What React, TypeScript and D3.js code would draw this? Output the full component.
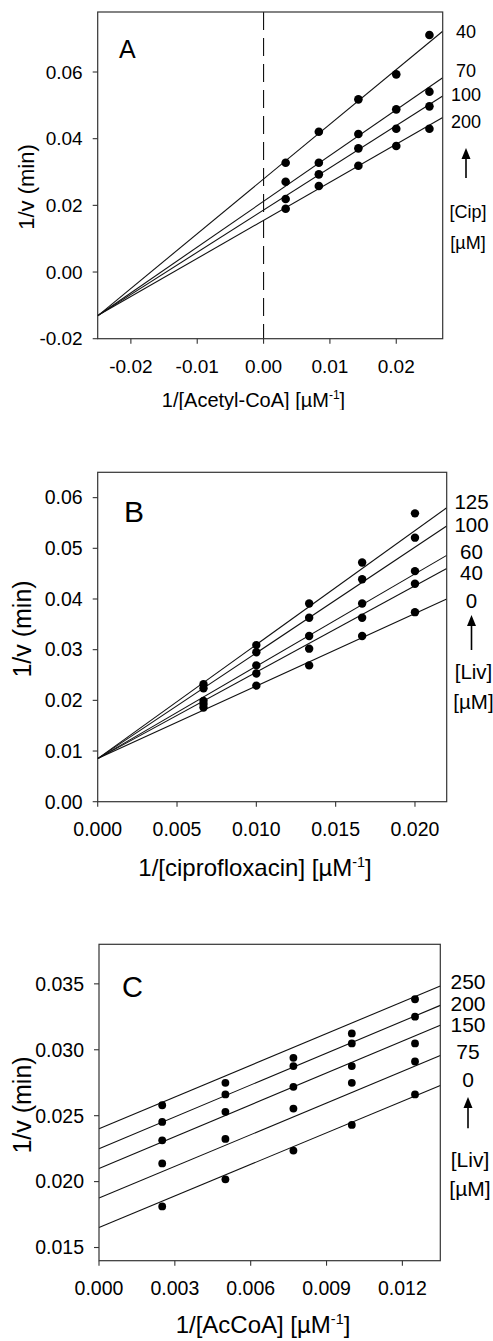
import React from "react";
import * as d3 from "d3";

// ---------- DATA ----------
// Panel A: 1/v vs 1/[Acetyl-CoA], series = [Cip] (µM)
const aSeries = ["40", "70", "100", "200"];
const aX = [0.00333, 0.00833, 0.01429, 0.02, 0.025];
const aY40 = [0.0328, 0.0421, 0.0518, 0.0593, 0.0711];
const aY70 = [0.0271, 0.0328, 0.0414, 0.0488, 0.0541];
const aY100 = [0.0219, 0.0293, 0.0371, 0.043, 0.0497];
const aY200 = [0.019, 0.0258, 0.0319, 0.0378, 0.043];
const aSlopes = [1.642, 1.373, 1.267, 1.142];
const aIntercepts = [0.0279, 0.0212, 0.0186, 0.0155];
const aXTicks = [-0.02, -0.01, 0.0, 0.01, 0.02];
const aYTicks = [-0.02, 0.0, 0.02, 0.04, 0.06];

// Panel B: 1/v vs 1/[ciprofloxacin], series = [Liv] (µM)
const bSeries = ["125", "100", "60", "40", "0"];
const bX = [0.00667, 0.01, 0.01333, 0.01667, 0.02];
const bY125 = [0.0232, 0.0309, 0.0391, 0.0472, 0.0569];
const bY100 = [0.0224, 0.0295, 0.0363, 0.0439, 0.0521];
const bY60 = [0.0199, 0.0269, 0.0327, 0.0391, 0.0455];
const bY40 = [0.0193, 0.0253, 0.0302, 0.0363, 0.043];
const bY0 = [0.0186, 0.0229, 0.0269, 0.0327, 0.0374];
const bSlopes = [2.25, 2.086, 1.823, 1.705, 1.432];
const bIntercepts = [0.0085, 0.0085, 0.0085, 0.0085, 0.0085];
const bXTicks = [0.0, 0.005, 0.01, 0.015, 0.02];
const bYTicks = [0.0, 0.01, 0.02, 0.03, 0.04, 0.05, 0.06];

// Panel C: 1/v vs 1/[AcCoA], series = [Liv] (µM)
const cSeries = ["250", "200", "150", "75", "0"];
const cX = [0.0025, 0.005, 0.00769, 0.01, 0.0125];
const cY250 = [0.02579, 0.02749, 0.02939, 0.03124, 0.03383];
const cY200 = [0.02453, 0.02661, 0.02876, 0.03048, 0.03251];
const cY150 = [0.02313, 0.02529, 0.02719, 0.02876, 0.03048];
const cY75 = [0.02138, 0.02324, 0.02554, 0.02749, 0.02911];
const cY0 = [0.01812, 0.02017, 0.02235, 0.0243, 0.02661];
const cSlopes = [0.803, 0.805, 0.804, 0.801, 0.798];
const cIntercepts = [0.024, 0.0225, 0.021, 0.01875, 0.01652];
const cXTicks = [0.0, 0.003, 0.006, 0.009, 0.012];
const cYTicks = [0.015, 0.02, 0.025, 0.03, 0.035];

const FONT = "'Liberation Sans', Arial, Helvetica, sans-serif";

type PanelCfg = {
  id: string;
  letter: string;
  box: { l: number; r: number; t: number; b: number };
  xDomain: [number, number];
  yDomain: [number, number];
  xTicks: number[];
  yTicks: number[];
  xFmt: string;
  yFmt: string;
  xs: number[];
  ys: number[][];
  slopes: number[];
  intercepts: number[];
  series: string[];
  unitLabel: string;
  xTitle: string;
  tickFont: number;
  letterPos: [number, number, number];
  yTitle: [number, number, number];
  xTitlePos: [number, number, number];
  labelX: number;
  labelFont: number;
  labelYs: number[];
  arrow: [number, number];
  unitYs: [number, number];
  dashedZero?: boolean;
  clipTitleAt?: number;
  dotR: number;
};

const hy = (s: string) => s.replace("\u2212", "-");

function Panel({ c }: { c: PanelCfg }) {
  const x = d3.scaleLinear().domain(c.xDomain).range([c.box.l, c.box.r]);
  const y = d3.scaleLinear().domain(c.yDomain).range([c.box.b, c.box.t]);
  const fx = d3.format(c.xFmt);
  const fy = d3.format(c.yFmt);
  const stroke = "#111";
  return (
    <g fontFamily={FONT}>
      {c.clipTitleAt !== undefined && (
        <defs>
          <clipPath id={`clip-${c.id}`}>
            <rect x={0} y={0} width={493} height={c.clipTitleAt} />
          </clipPath>
        </defs>
      )}
      {/* fitted lines */}
      {c.slopes.map((s, i) => {
        const x0 = c.xDomain[0];
        const x1 = c.xDomain[1];
        return (
          <line
            key={"l" + i}
            x1={x(x0)}
            y1={y(c.intercepts[i] + s * x0)}
            x2={x(x1)}
            y2={y(c.intercepts[i] + s * x1)}
            stroke={stroke}
            strokeWidth={1.1}
          />
        );
      })}
      {c.dashedZero && (
        <line
          x1={x(0)}
          x2={x(0)}
          y1={c.box.t}
          y2={c.box.b}
          stroke={stroke}
          strokeWidth={1.1}
          strokeDasharray="18,8"
        />
      )}
      {/* points */}
      {c.ys.map((arr, i) =>
        arr.map((v, j) => (
          <circle key={`p${i}-${j}`} cx={x(c.xs[j])} cy={y(v)} r={c.dotR} fill="#000" />
        ))
      )}
      {/* frame */}
      <rect
        x={c.box.l}
        y={c.box.t}
        width={c.box.r - c.box.l}
        height={c.box.b - c.box.t}
        fill="none"
        stroke="#333"
        strokeWidth={1.2}
      />
      {/* x ticks */}
      {c.xTicks.map((t) => (
        <g key={"xt" + t}>
          <line x1={x(t)} x2={x(t)} y1={c.box.b} y2={c.box.b + 5} stroke="#333" strokeWidth={1.1} />
          <text x={x(t)} y={c.box.b + 34} textAnchor="middle" fontSize={c.tickFont} fill="#000">
            {hy(fx(t))}
          </text>
        </g>
      ))}
      {/* y ticks */}
      {c.yTicks.map((t) => (
        <g key={"yt" + t}>
          <line x1={c.box.l - 5} x2={c.box.l} y1={y(t)} y2={y(t)} stroke="#333" strokeWidth={1.1} />
          <text
            x={c.box.l - 15}
            y={y(t)}
            dy="0.35em"
            textAnchor="end"
            fontSize={c.tickFont}
            fill="#000"
          >
            {hy(fy(t))}
          </text>
        </g>
      ))}
      {/* panel letter */}
      <text x={c.letterPos[0]} y={c.letterPos[1]} fontSize={c.letterPos[2]} fill="#000">
        {c.letter}
      </text>
      {/* y title */}
      <text
        transform={`translate(${c.yTitle[0]},${c.yTitle[1]}) rotate(-90)`}
        textAnchor="middle"
        dy="0.35em"
        fontSize={c.yTitle[2]}
        fill="#000"
      >
        1/v (min)
      </text>
      {/* x title */}
      <text
        x={c.xTitlePos[0]}
        y={c.xTitlePos[1]}
        textAnchor="middle"
        fontSize={c.xTitlePos[2]}
        fill="#000"
        clipPath={c.clipTitleAt !== undefined ? `url(#clip-${c.id})` : undefined}
      >
        <tspan>{c.xTitle} [µM</tspan>
        <tspan dy={-c.xTitlePos[2] * 0.38} fontSize={c.xTitlePos[2] * 0.6}>
          -1
        </tspan>
        <tspan dy={c.xTitlePos[2] * 0.38}>]</tspan>
      </text>
      {/* series labels */}
      {c.series.map((s, i) => (
        <text
          key={"s" + s}
          x={c.labelX}
          y={c.labelYs[i]}
          dy="0.35em"
          textAnchor="middle"
          fontSize={c.labelFont}
          fill="#000"
        >
          {s}
        </text>
      ))}
      {/* arrow */}
      <line
        x1={c.labelX}
        x2={c.labelX}
        y1={c.arrow[1]}
        y2={c.arrow[0] + 9}
        stroke="#000"
        strokeWidth={1.6}
      />
      <path
        d={`M${c.labelX},${c.arrow[0]} L${c.labelX - 4.5},${c.arrow[0] + 11} L${c.labelX + 4.5},${c.arrow[0] + 11} Z`}
        fill="#000"
      />
      <text x={c.labelX + 2} y={c.unitYs[0]} dy="0.35em" textAnchor="middle" fontSize={c.labelFont} fill="#000">
        {c.unitLabel}
      </text>
      <text x={c.labelX + 2} y={c.unitYs[1]} dy="0.35em" textAnchor="middle" fontSize={c.labelFont} fill="#000">
        [µM]
      </text>
    </g>
  );
}

const panels: PanelCfg[] = [
  {
    id: "A",
    letter: "A",
    box: { l: 97.7, r: 442.7, t: 12, b: 338.7 },
    xDomain: [-0.025, 0.027],
    yDomain: [-0.02, 0.078],
    xTicks: aXTicks,
    yTicks: aYTicks,
    xFmt: ".2f",
    yFmt: ".2f",
    xs: aX,
    ys: [aY40, aY70, aY100, aY200],
    slopes: aSlopes,
    intercepts: aIntercepts,
    series: aSeries,
    unitLabel: "[Cip]",
    xTitle: "1/[Acetyl-CoA]",
    tickFont: 19,
    letterPos: [119, 58, 25],
    yTitle: [26, 187, 22],
    xTitlePos: [253.5, 407, 20],
    labelX: 466,
    labelFont: 18,
    labelYs: [32, 70.7, 95, 121.7],
    arrow: [148, 178],
    unitYs: [211.7, 243],
    dashedZero: true,
    clipTitleAt: 410,
    dotR: 4.3,
  },
  {
    id: "B",
    letter: "B",
    box: { l: 97.7, r: 446.7, t: 472.3, b: 801.7 },
    xDomain: [0, 0.022],
    yDomain: [0, 0.065],
    xTicks: bXTicks,
    yTicks: bYTicks,
    xFmt: ".3f",
    yFmt: ".2f",
    xs: bX,
    ys: [bY125, bY100, bY60, bY40, bY0],
    slopes: bSlopes,
    intercepts: bIntercepts,
    series: bSeries,
    unitLabel: "[Liv]",
    xTitle: "1/[ciprofloxacin]",
    tickFont: 19.5,
    letterPos: [124, 521.7, 30],
    yTitle: [22, 629, 25],
    xTitlePos: [255, 876, 24],
    labelX: 471.5,
    labelFont: 20.5,
    labelYs: [501.7, 525, 551.7, 573.3, 601],
    arrow: [615, 650],
    unitYs: [671.7, 701.7],
    dotR: 4.2,
  },
  {
    id: "C",
    letter: "C",
    box: { l: 99, r: 440.3, t: 944.3, b: 1260.7 },
    xDomain: [0, 0.0135],
    yDomain: [0.014, 0.038],
    xTicks: cXTicks,
    yTicks: cYTicks,
    xFmt: ".3f",
    yFmt: ".3f",
    xs: cX,
    ys: [cY250, cY200, cY150, cY75, cY0],
    slopes: cSlopes,
    intercepts: cIntercepts,
    series: cSeries,
    unitLabel: "[Liv]",
    xTitle: "1/[AcCoA]",
    tickFont: 19.5,
    letterPos: [122, 997.3, 29],
    yTitle: [22, 1105, 25],
    xTitlePos: [263, 1333, 24],
    labelX: 468,
    labelFont: 21,
    labelYs: [981.7, 1003.3, 1025, 1051.7, 1079.3],
    arrow: [1097, 1128.3],
    unitYs: [1159.3, 1188.3],
    dotR: 3.9,
  },
];

export default function App() {
  return (
    <div style={{ position: "absolute", left: 0, top: 0 }}>
      <svg width={493} height={1341} viewBox="0 0 493 1341" style={{ display: "block", background: "#fff" }}>
        <rect width={493} height={1341} fill="#fff" />
        {panels.map((p) => (
          <Panel key={p.id} c={p} />
        ))}
      </svg>
    </div>
  );
}
